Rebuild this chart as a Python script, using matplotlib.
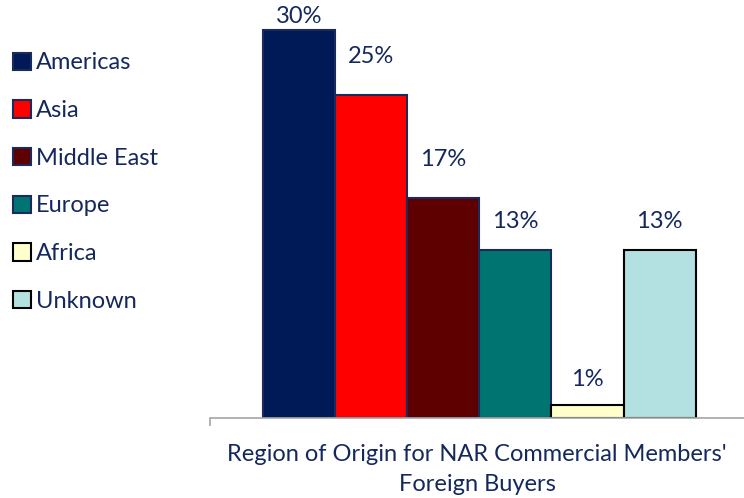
import matplotlib
matplotlib.use("Agg")
from matplotlib import pyplot as plt

regions = ["Americas", "Asia", "Middle East", "Europe", "Africa", "Unknown"]
shares = [30, 25, 17, 13, 1, 13]
labels = ["30%", "25%", "17%", "13%", "1%", "13%"]

colors = ["#001A57", "#FF0000", "#5F0000", "#007470", "#FFFFCC", "#B3E0E0"]
edges = ["#1A2A5A", "#1A2A5A", "#1A2A5A", "#1A2A5A", "#000000", "#000000"]
# gap between bar top and label bottom, in pixels
gaps = [3, 28, 28, 18, 15, 18]

navy = "#14285E"
fs = 17
plt.rcParams["font.family"] = ["Lato", "DejaVu Sans"]

fig = plt.figure(figsize=(7.44, 4.98), dpi=100)
ax = fig.add_axes([210 / 744, 80 / 498, 534 / 744, 418 / 498])

x = list(range(len(regions)))
bars = ax.bar(x, shares, width=1.0, color=colors, edgecolor=edges, linewidth=1.5)

for b, lab, g in zip(bars, labels, gaps):
    ax.annotate(lab, (b.get_x() + b.get_width() / 2, b.get_height()),
                xytext=(0, g * 0.72), textcoords="offset points",
                ha="center", va="bottom", fontsize=fs, color=navy)

ax.set_xlim(-1.236, 6.17)
ax.set_ylim(0, 418 / 12.93)
for s in ["top", "right", "left"]:
    ax.spines[s].set_visible(False)
ax.spines["bottom"].set_color("#A6A6A6")
ax.spines["bottom"].set_linewidth(1.2)
ax.set_yticks([])
ax.set_xticks([-1.236])
ax.set_xticklabels([""])
ax.tick_params(axis="x", length=6, width=1.2, color="#A6A6A6")
ax.set_xlabel("Region of Origin for NAR Commercial Members'\nForeign Buyers",
              fontsize=fs, color=navy, labelpad=9, linespacing=1.55)

handles = [plt.Rectangle((0, 0), 1, 1, facecolor=c, edgecolor=e, linewidth=1.5)
           for c, e in zip(colors, edges)]
leg = fig.legend(handles, regions, loc="upper left", bbox_to_anchor=(4 / 744, 1 - 43 / 498),
                 frameon=False, fontsize=fs, handlelength=0.75, handleheight=0.75,
                 handletextpad=0.2, labelspacing=1.13, borderaxespad=0)
for t in leg.get_texts():
    t.set_color(navy)

fig.savefig("out.png", dpi=100)
